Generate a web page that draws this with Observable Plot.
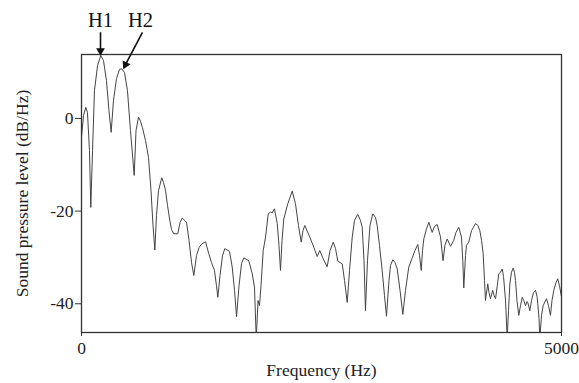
<!DOCTYPE html>
<html>
<head>
<meta charset="utf-8">
<script src="https://cdn.jsdelivr.net/npm/d3@7"></script>
<script src="https://cdn.jsdelivr.net/npm/@observablehq/plot@0.6"></script>
<style>
  html, body { margin: 0; padding: 0; background: #fff; }
  #chart { width: 579px; height: 383px; }
  #chart svg g[aria-label$="label"] text { font-size: 17.5px; }
</style>
</head>
<body>
<div id="chart"></div>
<script>
// Frequency (Hz) sampled along the spectrum envelope
const freq = [0,21,45,62,83,97,115,135,167,201,229,260,286,309,333,365,396,420,448,479,510,549,568,594,615,635,667,698,724,745,764,781,802,836,854,875,896,920,938,961,1003,1026,1049,1094,1120,1146,1170,1198,1224,1247,1292,1326,1354,1385,1406,1420,1443,1469,1493,1542,1570,1594,1615,1641,1667,1691,1743,1778,1802,1820,1839,1854,1870,1893,1917,1945,1969,1986,2010,2039,2057,2073,2089,2107,2149,2195,2229,2260,2289,2307,2326,2378,2420,2455,2482,2518,2559,2589,2622,2646,2670,2716,2740,2768,2792,2820,2844,2878,2906,2924,2943,2958,2979,3005,3034,3063,3080,3104,3132,3156,3177,3203,3219,3243,3266,3289,3318,3347,3375,3409,3445,3474,3503,3521,3539,3552,3566,3594,3618,3653,3677,3705,3740,3766,3786,3809,3844,3878,3901,3930,3958,3972,3982,4000,4010,4034,4063,4104,4130,4149,4167,4184,4198,4208,4232,4245,4260,4284,4297,4313,4331,4347,4365,4382,4396,4417,4434,4448,4462,4479,4497,4510,4521,4536,4555,4573,4591,4607,4625,4639,4649,4670,4688,4708,4729,4745,4753,4766,4774,4792,4809,4844,4865,4885,4901,4920,4943,4961,4979,4997];
// Sound pressure level (dB/Hz)
const level = [-4.0,0.6,2.4,1.3,-6.9,-19.2,-6.9,6.0,11.4,13.6,12.5,8.2,1.7,-3.0,3.9,8.6,10.6,10.7,9.9,6.0,-2.6,-12.3,-2.6,0.3,-0.6,-2.0,-4.8,-8.4,-15.6,-23.1,-28.4,-21.0,-15.6,-12.8,-13.8,-15.5,-18.8,-22.0,-24.0,-24.9,-24.9,-22.5,-21.5,-22.4,-26.3,-31.1,-33.9,-29.6,-27.9,-27.2,-26.6,-29.2,-31.1,-32.8,-36.1,-38.6,-33.9,-29.6,-28.1,-28.7,-32.1,-37.1,-42.8,-36.1,-31.3,-30.1,-30.7,-33.5,-36.4,-47.5,-39.3,-40.4,-36.1,-28.5,-25.6,-20.6,-20.2,-20.4,-19.5,-22.7,-27.4,-32.8,-26.3,-21.7,-18.4,-15.7,-18.4,-23.1,-26.7,-24.2,-23.1,-25.6,-27.8,-29.8,-28.5,-30.3,-32.0,-28.5,-26.7,-28.1,-30.8,-31.4,-35.0,-39.7,-32.8,-25.6,-22.0,-20.7,-22.0,-23.5,-30.7,-41.5,-30.7,-23.1,-20.6,-21.4,-23.1,-27.4,-32.8,-38.2,-42.7,-35.0,-31.7,-30.5,-31.1,-32.5,-37.1,-42.3,-37.1,-32.1,-30.1,-28.5,-27.2,-29.6,-32.8,-28.5,-26.0,-23.8,-22.4,-24.6,-23.3,-22.9,-25.6,-30.7,-27.4,-26.0,-27.6,-26.3,-24.6,-23.5,-25.6,-30.7,-36.6,-29.6,-27.4,-26.7,-24.2,-22.7,-23.1,-24.2,-26.3,-29.2,-35.0,-39.3,-35.7,-37.6,-38.9,-37.1,-38.2,-38.9,-36.1,-33.5,-33.2,-32.5,-34.1,-39.3,-47.5,-41.5,-35.7,-33.2,-32.3,-33.2,-35.0,-39.3,-42.5,-40.4,-38.6,-39.3,-40.4,-39.5,-39.7,-41.5,-39.3,-37.6,-37.1,-38.4,-40.0,-43.2,-47.5,-42.5,-40.4,-38.9,-40.4,-42.5,-39.3,-37.1,-35.4,-34.6,-36.1,-38.2];

const yTicks = [0, -20, -40];
const xTicks = [0, 5000];

// Harmonic annotations: label position, arrow start and arrow tip (data units)
const annLabels = ["H1", "H2"];
const annTextX = [198, 615];
const annTextY = [19.7, 19.7];
const annFromX = [198, 635];
const annFromY = [18.6, 18.6];
const annToX = [198, 458];
const annToY = [14.6, 11.6];
const annHeadRotate = [180, 206];

const spectrum = freq.map((f, i) => ({f, db: level[i]}));
const ann = annLabels.map((label, i) => ({
  label, tx: annTextX[i], ty: annTextY[i],
  x1: annFromX[i], y1: annFromY[i], x2: annToX[i], y2: annToY[i], rot: annHeadRotate[i]
}));

const chart = Plot.plot({
  width: 579,
  height: 383,
  marginLeft: 81,
  marginRight: 18,
  marginTop: 54,
  marginBottom: 51,
  style: {fontFamily: "'Liberation Serif', 'Times New Roman', serif", fontSize: "16px", color: "#222", background: "#fff"},
  x: {domain: [0, 5000]},
  y: {domain: [-46.2, 13.8]},
  marks: [
    Plot.line(spectrum, {x: "f", y: "db", stroke: "#444", strokeWidth: 1, clip: true}),
    Plot.frame({stroke: "#333", strokeWidth: 1.3}),
    Plot.axisY({ticks: yTicks, tickSize: 6, tickPadding: 2, tickFormat: d => String(d),
      label: "Sound pressure level (dB/Hz)", labelAnchor: "center", labelArrow: "none", labelOffset: 66, stroke: "#333"}),
    Plot.axisX({ticks: xTicks, tickSize: 4, tickPadding: 5, tickFormat: d => String(d),
      label: "Frequency (Hz)", labelAnchor: "center", labelArrow: "none", labelOffset: 43, stroke: "#333"}),
    Plot.link(ann, {x1: "x1", y1: "y1", x2: "x2", y2: "y2", stroke: "#111", strokeWidth: 1.6, clip: false}),
    Plot.dot(ann, {x: "x2", y: "y2", symbol: "triangle2", r: 4.2, fill: "#111", rotate: "rot", clip: false}),
    Plot.text(ann, {x: "tx", y: "ty", text: "label", fontSize: 20.5, fill: "#111", lineAnchor: "bottom", clip: false})
  ]
});
document.getElementById("chart").appendChild(chart);
</script>
</body>
</html>
